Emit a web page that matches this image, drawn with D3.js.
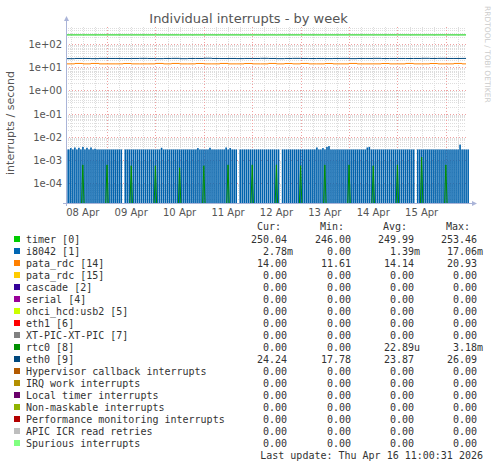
<!DOCTYPE html>
<html lang="en">
<head>
<meta charset="UTF-8">
<title>Individual interrupts - by week</title>
<script src="https://d3js.org/d3.v7.min.js"></script>
<style>
  body { margin: 0; background: #fff; }
  text { font-family: "DejaVu Sans", sans-serif; }
  .mono { font-family: "DejaVu Sans Mono", monospace; font-size: 10px; fill: #333; }
</style>
</head>
<body>
<div id="chart"></div>
<script>
// ---- data ----
const dayTicks = ["2026-04-08","2026-04-09","2026-04-10","2026-04-11","2026-04-12","2026-04-13","2026-04-14","2026-04-15"];
const yTickLabels = ["1e+02","1e+01","1e+00","1e-01","1e-02","1e-03","1e-04"];
const yTickValues = [1e2, 1e1, 1e0, 1e-1, 1e-2, 1e-3, 1e-4];

// timer [0], sampled every 12h from Apr 8 00:00
const timerVals = [250,250,250,250,250,250,250,250,250,250,250,250,250,250,250,250,250,250];
// eth0 [9], every 4h from Apr 8 00:00
const eth0Vals = [24,23.5,24,24,23.6,24.1,24,24,23.8,24,24.2,24,23.6,24,24.2,23.5,24,24,24.5,24,23.8,24,23.7,24,
  24,24.3,24,23.6,24,24.2,24,23.8,24,23.7,24,24.1,23.6,24,24,24.2,23.8,24,24,23.9,24,24.3,24,24.2,24,24,24.1,24];
// pata_rdc [14], every 4h from Apr 8 00:00
const pata14Vals = [14,14,14.6,14,14.6,14,14,14,14.5,14,14,14,14.6,14,14.6,14,14,14.5,14,14,14.6,14,14,14.5,
  14,14,14.6,14,14.5,14,14.6,14,14,14.5,14,14,14.6,14,14,14,14.5,14,14,14.6,14,14,14.5,14,14,14.6,14,14];
// i8042 [1] peaks in milli-interrupts/s, one per hour from Apr 8 03:40 (null = gap)
const i8042Vals = [
  2.8,2.8,3.2,2.8,3.4,2.8,3.3,2.8,3.6,2.8,3.3,2.8,3.4,2.8,3.0,2.8,2.8,2.8,2.8,2.8,2.8,2.8,2.8,2.8,2.8,2.8,2.8,2.8,null,2.8,
  2.8,2.8,2.8,2.8,2.8,2.8,2.8,2.8,2.8,2.8,2.8,2.8,2.8,2.8,2.8,2.8,2.8,3.3,2.8,2.8,2.8,2.8,2.8,2.8,2.8,2.8,2.8,2.8,2.8,2.8,
  2.8,2.8,2.8,2.8,2.8,3.2,2.8,2.8,2.8,2.8,2.8,3.3,2.8,2.8,2.8,2.8,2.8,2.8,2.8,3.4,2.8,3.2,2.8,2.8,2.8,null,2.8,2.8,2.8,2.8,
  2.8,2.8,2.8,2.8,2.8,2.8,2.8,2.8,2.8,2.8,2.8,2.8,2.8,2.8,2.8,2.8,null,2.8,2.8,2.8,2.8,2.8,2.8,2.8,2.8,2.8,2.8,2.8,2.8,2.8,
  2.8,2.8,2.8,2.8,3.4,2.8,2.8,3.2,2.8,3.6,3.9,2.8,2.8,2.8,2.8,2.8,2.8,2.8,2.8,2.8,2.8,2.8,2.8,2.8,2.8,2.8,2.8,2.8,2.8,3.4,
  3.6,2.8,2.8,2.8,2.8,2.8,2.8,2.8,2.8,2.8,2.8,2.8,2.8,2.8,2.8,2.8,2.8,2.8,2.8,2.8,2.8,2.8,2.8,null,2.8,2.8,2.8,2.8,2.8,2.8,
  2.8,2.8,2.8,2.8,2.8,2.8,2.8,2.8,2.8,2.8,2.8,2.8,2.8,2.8,2.8,4.5,2.8,2.8,2.8,2.8];
// rtc0 [8] spikes: time and peak value
const rtcTimes = ["2026-04-08T12:00","2026-04-09T00:00","2026-04-09T12:00","2026-04-10T00:00","2026-04-10T12:00","2026-04-11T00:00",
  "2026-04-11T12:00","2026-04-12T00:00","2026-04-12T12:00","2026-04-13T00:00","2026-04-13T12:00","2026-04-14T00:00",
  "2026-04-14T12:00","2026-04-15T00:00","2026-04-15T12:00","2026-04-16T00:00"];
const rtcVals = [6e-4,6e-4,5.5e-4,5.5e-4,4.5e-4,5.5e-4,6e-4,6e-4,6e-4,5.5e-4,6e-4,6e-4,5.5e-4,6e-4,1.3e-3,6e-4];

const legendNames = ["timer [0]","i8042 [1]","pata_rdc [14]","pata_rdc [15]","cascade [2]","serial [4]","ohci_hcd:usb2 [5]",
  "eth1 [6]","XT-PIC-XT-PIC [7]","rtc0 [8]","eth0 [9]","Hypervisor callback interrupts","IRQ work interrupts",
  "Local timer interrupts","Non-maskable interrupts","Performance monitoring interrupts","APIC ICR read retries","Spurious interrupts"];
const legendColors = ["#00cc00","#0066b3","#ff8000","#ffcc00","#330099","#990099","#ccff00","#ff0000","#808080","#008f00",
  "#00487d","#b35a00","#b38f00","#6b006b","#8fb300","#b30000","#bebebe","#80ff80"];
const legendCur = ["250.04","2.78m","14.00","0.00","0.00","0.00","0.00","0.00","0.00","0.00","24.24","0.00","0.00","0.00","0.00","0.00","0.00","0.00"];
const legendMin = ["246.00","0.00","11.61","0.00","0.00","0.00","0.00","0.00","0.00","0.00","17.78","0.00","0.00","0.00","0.00","0.00","0.00","0.00"];
const legendAvg = ["249.99","1.39m","14.14","0.00","0.00","0.00","0.00","0.00","0.00","22.89u","23.87","0.00","0.00","0.00","0.00","0.00","0.00","0.00"];
const legendMax = ["253.46","17.06m","20.93","0.00","0.00","0.00","0.00","0.00","0.00","3.18m","26.09","0.00","0.00","0.00","0.00","0.00","0.00","0.00"];

// ---- layout ----
const W = 497, H = 468;
const plot = { left: 66, right: 466, top: 27, bottom: 203 };
const t0 = new Date("2026-04-08T03:40"), t1 = new Date("2026-04-16T10:00");
const base = new Date("2026-04-08T00:00");

const svg = d3.select("#chart").append("svg").attr("width", W).attr("height", H);

const x = d3.scaleTime().domain([t0, t1]).range([plot.left, plot.right]);
const y = d3.scaleLog().domain([1.35e-5, 550]).range([plot.bottom, plot.top]);

// grid
const g = svg.append("g");
const minorY = [];
for (let e = -5; e <= 2; e++) for (let k = 2; k <= 9; k++) { const v = k * Math.pow(10, e); if (v > 1.35e-5 && v < 550) minorY.push(v); }
g.selectAll(".my").data(minorY).join("line")
  .attr("x1", plot.left).attr("x2", plot.right).attr("y1", d => Math.round(y(d)) + 0.5).attr("y2", d => Math.round(y(d)) + 0.5)
  .attr("stroke", "#ddd").attr("stroke-dasharray", "1,1");
const sixH = d3.timeHour.every(6).range(t0, t1).filter(d => d.getHours() !== 0);
g.selectAll(".mx").data(sixH).join("line")
  .attr("x1", d => Math.round(x(d)) + 0.5).attr("x2", d => Math.round(x(d)) + 0.5).attr("y1", plot.top).attr("y2", plot.bottom)
  .attr("stroke", "#ddd").attr("stroke-dasharray", "1,1");
g.selectAll(".My").data(yTickValues).join("line")
  .attr("x1", plot.left).attr("x2", plot.right).attr("y1", d => Math.round(y(d)) + 0.5).attr("y2", d => Math.round(y(d)) + 0.5)
  .attr("stroke", "#f0a0a0").attr("stroke-dasharray", "1,2");
const mids = d3.timeDay.range(t0, t1);
g.selectAll(".Mx").data(mids).join("line")
  .attr("x1", d => Math.round(x(d)) + 0.5).attr("x2", d => Math.round(x(d)) + 0.5).attr("y1", plot.top).attr("y2", plot.bottom)
  .attr("stroke", "#f0a0a0").attr("stroke-dasharray", "1,2");

// i8042 bars
const step = 3600 * 1000;
svg.append("g").selectAll("rect").data(i8042Vals.map((v, i) => ({ t: new Date(+t0 + i * step), v })).filter(d => d.v !== null))
  .join("rect")
  .attr("x", d => x(d.t)).attr("width", 1.6)
  .attr("y", d => y(d.v / 1000)).attr("height", d => plot.bottom - y(d.v / 1000))
  .attr("fill", "#0062ad");

// rtc0 spikes
svg.append("g").selectAll("path").data(rtcTimes.map((t, i) => ({ t: new Date(t), v: rtcVals[i] })))
  .join("path")
  .attr("d", d => `M${x(d.t) - 1.2},${plot.bottom}L${x(d.t)},${y(d.v)}L${x(d.t) + 1.2},${plot.bottom}`)
  .attr("fill", "none").attr("stroke", "#008f00").attr("stroke-width", 1);

// lines
function drawLine(vals, hours, color) {
  const pts = vals.map((v, i) => ({ t: new Date(+base + i * hours * step), v }));
  svg.append("path").datum(pts)
    .attr("d", d3.line().x(d => x(Math.max(+t0, Math.min(+t1, +d.t)))).y(d => y(d.v)).curve(d3.curveStepAfter))
    .attr("fill", "none").attr("stroke", color).attr("stroke-width", 1);
}
drawLine(timerVals, 12, "#00cc00");
drawLine(eth0Vals, 4, "#00487d");
drawLine(pata14Vals, 4, "#ff8000");

// axes
const axisCol = "#aab4d8";
svg.append("line").attr("x1", plot.left + 0.5).attr("x2", plot.left + 0.5).attr("y1", plot.bottom + 3).attr("y2", plot.top - 6).attr("stroke", axisCol);
svg.append("path").attr("d", `M${plot.left - 2},${plot.top - 6}L${plot.left + 3},${plot.top - 6}L${plot.left + 0.5},${plot.top - 11}Z`).attr("fill", axisCol);
svg.append("line").attr("x1", plot.left - 3).attr("x2", plot.right + 6).attr("y1", plot.bottom + 0.5).attr("y2", plot.bottom + 0.5).attr("stroke", axisCol);
svg.append("path").attr("d", `M${plot.right + 6},${plot.bottom - 2}L${plot.right + 6},${plot.bottom + 3}L${plot.right + 11},${plot.bottom + 0.5}Z`).attr("fill", axisCol);

svg.append("g").selectAll("text").data(yTickValues).join("text")
  .attr("x", plot.left - 4).attr("y", d => y(d) + 4).attr("text-anchor", "end")
  .attr("font-size", 10).attr("fill", "#555").text((d, i) => yTickLabels[i]);
svg.append("g").selectAll("text").data(dayTicks).join("text")
  .attr("x", d => x(d3.timeHour.offset(new Date(d + "T00:00"), 12))).attr("y", plot.bottom + 13)
  .attr("text-anchor", "middle").attr("font-size", 10).attr("fill", "#555")
  .text(d => d3.timeFormat("%d %b")(new Date(d + "T00:00")));

svg.append("text").attr("transform", `translate(14,${(plot.top + plot.bottom) / 2 + 8}) rotate(-90)`)
  .attr("text-anchor", "middle").attr("font-size", 11).attr("fill", "#555").text("interrupts / second");
svg.append("text").attr("x", W / 2).attr("y", 23).attr("text-anchor", "middle")
  .attr("font-size", 13).attr("fill", "#555").text("Individual interrupts - by week");
svg.append("text").attr("transform", `translate(485,6) rotate(90)`).attr("font-size", 7.5)
  .attr("fill", "#ccc").text("RRDTOOL / TOBI OETIKER");

// legend
const hdr = [["Cur:", 281], ["Min:", 344], ["Avg:", 407], ["Max:", 470]];
hdr.forEach(([t, xr]) => svg.append("text").attr("class", "mono").attr("x", xr).attr("y", 230).attr("text-anchor", "end").text(t));
const cols = [[legendCur, 287], [legendMin, 351], [legendAvg, 414], [legendMax, 477]];
legendNames.forEach((name, i) => {
  const yy = 243 + i * 12;
  svg.append("rect").attr("x", 14).attr("y", yy - 7).attr("width", 6).attr("height", 6).attr("fill", legendColors[i]);
  svg.append("text").attr("class", "mono").attr("x", 26).attr("y", yy).text(name);
  cols.forEach(([arr, xr]) => {
    const s = arr[i], suf = /[mu]$/.test(s);
    svg.append("text").attr("class", "mono").attr("x", suf ? xr + 6 : xr).attr("y", yy).attr("text-anchor", "end").text(s);
  });
});
svg.append("text").attr("class", "mono").attr("x", 483).attr("y", 459).attr("text-anchor", "end")
  .text("Last update: Thu Apr 16 11:00:31 2026");
</script>
</body>
</html>
